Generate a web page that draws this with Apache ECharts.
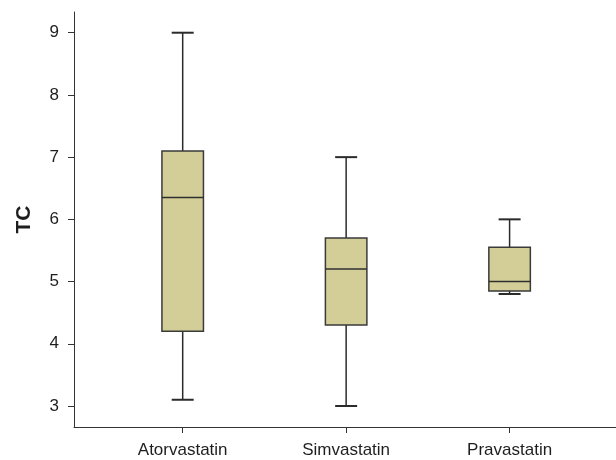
<!DOCTYPE html>
<html>
<head>
<meta charset="utf-8">
<script src="https://cdn.jsdelivr.net/npm/echarts@6/dist/echarts.min.js"></script>
<style>
html,body{margin:0;padding:0;background:#fff;}
#chart{width:616px;height:460px;}
</style>
</head>
<body>
<div id="chart"></div>
<script>
var categories = ['Atorvastatin', 'Simvastatin', 'Pravastatin'];
var mins    = [3.1, 3.0, 4.8];
var q1s     = [4.2, 4.3, 4.85];
var medians = [6.35, 5.2, 5.0];
var q3s     = [7.1, 5.7, 5.55];
var maxs    = [9.0, 7.0, 6.0];
var yTicks  = [3, 4, 5, 6, 7, 8, 9];
var xTicks  = [1, 2, 3];

var data = categories.map(function (c, i) {
  return [i + 1, mins[i], q1s[i], medians[i], q3s[i], maxs[i]];
});

var FONT = '"Liberation Sans", Arial, sans-serif';
var chart = echarts.init(document.getElementById('chart'), null, {renderer: 'canvas'});

chart.setOption({
  animation: false,
  backgroundColor: '#fff',
  grid: {left: 74, right: 0, top: 12, bottom: 33, containLabel: false},
  xAxis: {
    type: 'value',
    min: 0.335,
    max: 3.651,
    axisLine: {show: true, lineStyle: {color: '#333', width: 1}},
    axisTick: {show: true, length: 6, customValues: xTicks, lineStyle: {color: '#333'}},
    axisLabel: {
      show: true, customValues: xTicks, margin: 15,
      fontSize: 17, color: '#1e1e1e', fontFamily: FONT,
      formatter: function (v) { return categories[Math.round(v) - 1]; }
    },
    splitLine: {show: false}
  },
  yAxis: {
    type: 'value',
    min: 2.662,
    max: 9.333,
    name: 'TC',
    nameLocation: 'middle',
    nameGap: 39,
    nameRotate: 90,
    nameTextStyle: {fontSize: 21, fontWeight: 'bold', color: '#1e1e1e', fontFamily: FONT},
    axisLine: {show: true, lineStyle: {color: '#333', width: 1}},
    axisTick: {show: true, length: 6, customValues: yTicks, lineStyle: {color: '#333'}},
    axisLabel: {
      show: true, customValues: yTicks, margin: 15,
      fontSize: 17, color: '#1e1e1e', fontFamily: FONT,
      formatter: function (v) { return String(Math.round(v)); }
    },
    splitLine: {show: false}
  },
  series: [{
    type: 'custom',
    data: data,
    encode: {x: 0, y: [1, 2, 3, 4, 5]},
    renderItem: function (params, api) {
      var x = api.value(0);
      var pMin = api.coord([x, api.value(1)]);
      var pQ1 = api.coord([x, api.value(2)]);
      var pMed = api.coord([x, api.value(3)]);
      var pQ3 = api.coord([x, api.value(4)]);
      var pMax = api.coord([x, api.value(5)]);
      var cx = pMin[0];
      var half = 20.75;
      var capHalf = 11;
      var lineCol = '#2b2b2b';
      return {
        type: 'group',
        children: [
          {type: 'line', shape: {x1: cx, y1: pMin[1], x2: cx, y2: pMax[1]},
           style: {stroke: lineCol, lineWidth: 1.5}},
          {type: 'rect', shape: {x: cx - half, y: pQ3[1], width: half * 2, height: pQ1[1] - pQ3[1]},
           style: {fill: '#d3ce98', stroke: '#3a3a3a', lineWidth: 1.5}},
          {type: 'line', shape: {x1: cx - half, y1: pMed[1], x2: cx + half, y2: pMed[1]},
           style: {stroke: '#2f2f2f', lineWidth: 1.5}},
          {type: 'line', shape: {x1: cx - capHalf, y1: pMax[1], x2: cx + capHalf, y2: pMax[1]},
           style: {stroke: lineCol, lineWidth: 2}},
          {type: 'line', shape: {x1: cx - capHalf, y1: pMin[1], x2: cx + capHalf, y2: pMin[1]},
           style: {stroke: lineCol, lineWidth: 2}}
        ]
      };
    }
  }]
});
</script>
</body>
</html>
